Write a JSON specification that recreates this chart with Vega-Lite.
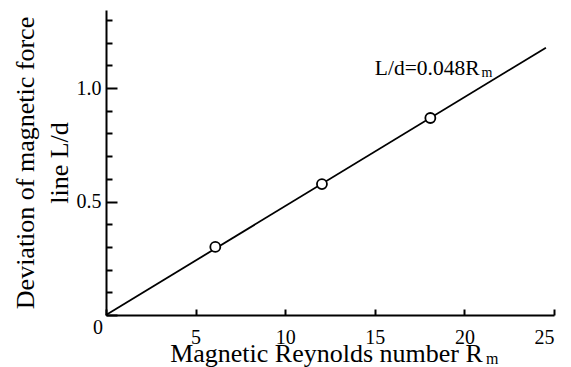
{
  "$schema": "https://vega.github.io/schema/vega-lite/v6.json",
  "width": 448,
  "height": 305,
  "autosize": {"type": "none"},
  "padding": {"left": 106, "top": 10, "right": 17, "bottom": 52},
  "background": "white",
  "config": {
    "view": {"stroke": null},
    "font": "Liberation Serif",
    "axis": {
      "grid": false,
      "domainColor": "black",
      "domainWidth": 2,
      "tickColor": "black",
      "tickWidth": 2,
      "labelFont": "Liberation Serif",
      "labelFontSize": 20,
      "labelColor": "black",
      "labelOverlap": false,
      "titleFont": "Liberation Serif",
      "titleFontSize": 26,
      "titleFontWeight": "normal",
      "titleColor": "black"
    }
  },
  "datasets": {
    "points": [
      {"Rm": 6.1, "Ld": 0.3},
      {"Rm": 12.05, "Ld": 0.577},
      {"Rm": 18.1, "Ld": 0.868}
    ],
    "fit": [
      {"Rm": 0, "Ld": 0},
      {"Rm": 24.55, "Ld": 1.178}
    ]
  },
  "layer": [
    {
      "data": {"name": "fit"},
      "mark": {"type": "line", "color": "black", "strokeWidth": 1.8},
      "encoding": {
        "x": {
          "field": "Rm",
          "type": "quantitative",
          "scale": {"domain": [0, 25], "nice": false},
          "axis": {
            "values": [0, 5, 10, 15, 20, 25],
            "tickCount": 20,
            "tickSize": -6,
            "labelExpr": "datum.value === 0 ? '' : datum.label",
            "labelPadding": 18,
            "labelOverlap": false,
            "title": "Magnetic Reynolds number R",
            "titleX": 220,
            "titleY": 46,
            "titleAlign": "center",
            "titleBaseline": "alphabetic"
          }
        },
        "y": {
          "field": "Ld",
          "type": "quantitative",
          "scale": {"domain": [0, 1.344], "nice": false},
          "axis": {
            "values": [0, 0.1, 0.2, 0.3, 0.4, 0.5, 0.6, 0.7, 0.8, 0.9, 1.0, 1.1, 1.2, 1.3],
            "tickCount": 30,
            "format": ".1f",
            "tickSize": -11,
            "tickDash": {"condition": {"test": "indexof(['0.0','0.5','1.0'], format(datum.value, '.1f')) >= 0", "value": [20, 0]}, "value": [6, 20]},
            "labelExpr": "indexof(['0.5','1.0'], datum.label) >= 0 ? datum.label : ''",
            "labelPadding": 16,
            "labelOverlap": false,
            "labelBound": false,
            "title": ["Deviation of magnetic force", "line L/d"],
            "titleLineHeight": 34,
            "titleAngle": 270,
            "titleX": -73,
            "titleY": 152.5,
            "titleAlign": "center",
            "titleBaseline": "alphabetic"
          }
        }
      }
    },
    {
      "data": {"name": "points"},
      "mark": {"type": "point", "shape": "circle", "filled": true, "fill": "white", "stroke": "black", "strokeWidth": 1.8, "size": 100, "opacity": 1},
      "encoding": {
        "x": {"field": "Rm", "type": "quantitative"},
        "y": {"field": "Ld", "type": "quantitative"}
      }
    },
    {
      "data": {"values": [{}]},
      "mark": {"type": "text", "text": "L/d=0.048R", "align": "left", "baseline": "alphabetic", "fontSize": 21.5, "font": "Liberation Serif", "color": "black", "clip": false},
      "encoding": {"x": {"datum": 15}, "y": {"datum": 1.057}}
    },
    {
      "data": {"values": [{}]},
      "mark": {"type": "text", "text": "m", "align": "left", "baseline": "alphabetic", "fontSize": 14, "font": "Liberation Serif", "color": "black", "clip": false},
      "encoding": {"x": {"datum": 20.95}, "y": {"datum": 1.05}}
    },
    {
      "data": {"values": [{}]},
      "mark": {"type": "text", "text": "m", "align": "left", "baseline": "alphabetic", "fontSize": 16, "font": "Liberation Serif", "color": "black", "clip": false},
      "encoding": {"x": {"datum": 21.2}, "y": {"datum": -0.216}}
    },
    {
      "data": {"values": [{}]},
      "mark": {"type": "text", "text": "0", "align": "center", "baseline": "middle", "fontSize": 20, "font": "Liberation Serif", "color": "black", "dx": -8, "dy": 13, "clip": false},
      "encoding": {"x": {"datum": 0}, "y": {"datum": 0}}
    }
  ]
}
